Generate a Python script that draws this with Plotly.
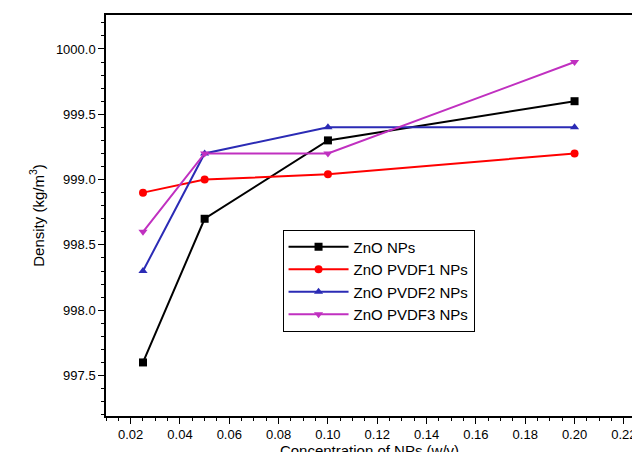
import plotly.graph_objects as go

conc = [0.025, 0.05, 0.1, 0.2]
zno = [997.6, 998.7, 999.3, 999.6]
pvdf1 = [998.9, 999.0, 999.04, 999.2]
pvdf2 = [998.3, 999.2, 999.4, 999.4]
pvdf3 = [998.6, 999.2, 999.2, 999.9]

series = [
    ("ZnO NPs", zno, "black", "square"),
    ("ZnO PVDF1 NPs", pvdf1, "#ff0000", "circle"),
    ("ZnO PVDF2 NPs", pvdf2, "#2b2bb5", "triangle-up"),
    ("ZnO PVDF3 NPs", pvdf3, "#c030c0", "triangle-down"),
]

fig = go.Figure()
for name, ys, col, sym in series:
    fig.add_trace(go.Scatter(x=conc, y=ys, name=name, mode="lines+markers",
                             line=dict(color=col, width=2),
                             marker=dict(symbol=sym, size=8, color=col)))

axis = dict(showline=True, linecolor="black", linewidth=1.5, mirror=True,
            ticks="outside", ticklen=6, tickwidth=1.2, tickcolor="black",
            minor=dict(ticks="outside", ticklen=3, tickcolor="black"),
            showgrid=False, zeroline=False,
            tickfont=dict(family="Arial, Liberation Sans", size=13, color="black"),
            title_font=dict(family="Arial, Liberation Sans", size=15, color="black"))

fig.update_layout(
    width=640, height=452, plot_bgcolor="white", paper_bgcolor="white",
    margin=dict(l=98, r=15, t=5, b=44),
    xaxis=dict(axis, range=[0.01, 0.2237], dtick=0.02, tick0=0.02, tickformat=".2f",
               title=dict(text="Concentration of NPs (w/v)", standoff=2)),
    yaxis=dict(axis, range=[997.19, 1000.26], dtick=0.5, tickformat=".1f",
               title=dict(text="Density (kg/m<sup>3</sup>)", standoff=8)),
    legend=dict(x=0.335, y=0.465, xanchor="left", yanchor="top",
                bordercolor="black", borderwidth=1, bgcolor="white",
                font=dict(family="Arial, Liberation Sans", size=15, color="black"),
                tracegroupgap=0, itemwidth=60),
)

fig.write_html("out.html")
